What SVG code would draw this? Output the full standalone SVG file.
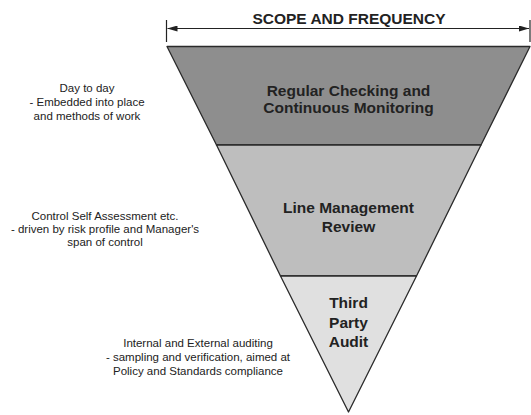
<svg xmlns="http://www.w3.org/2000/svg" width="531" height="415" viewBox="0 0 531 415">
<defs>
<style>
.band{stroke:#2a2a2a;stroke-width:1.3;stroke-linejoin:round}
.lbl{font-family:"Liberation Sans",Arial,sans-serif;font-weight:bold;font-size:15.5px;fill:#222;text-anchor:middle}
.note{font-family:"Liberation Sans",Arial,sans-serif;font-size:11.5px;fill:#222;text-anchor:middle}
.dim{stroke:#222;stroke-width:1.2;fill:none}
</style>
<marker id="ah" viewBox="0 0 10 6" refX="10" refY="3" markerWidth="10" markerHeight="6" markerUnits="userSpaceOnUse" orient="auto-start-reverse">
<path d="M0,0 L10,3 L0,6 z" fill="#222"/>
</marker>
</defs>
<rect width="531" height="415" fill="#fff"/>
<g id="connectors">
<line class="dim" x1="166.5" y1="20" x2="166.5" y2="42"/>
<line class="dim" x1="530" y1="20" x2="530" y2="42"/>
<line class="dim" x1="167.5" y1="28.5" x2="529" y2="28.5" marker-start="url(#ah)" marker-end="url(#ah)"/>
</g>
<g id="title">
<text class="lbl" x="349" y="24">SCOPE AND FREQUENCY</text>
</g>
<g id="band1">
<polygon class="band" fill="#8e8e8e" points="167,46.5 530,46.5 481,145 216.5,145"/>
<text class="lbl" x="348.5" y="96">Regular Checking and</text>
<text class="lbl" x="348.5" y="113">Continuous Monitoring</text>
</g>
<g id="band2">
<polygon class="band" fill="#bebebe" points="216.5,145 481,145 416.5,276 280.5,276"/>
<text class="lbl" x="348.5" y="213">Line Management</text>
<text class="lbl" x="348.5" y="232">Review</text>
</g>
<g id="band3">
<polygon class="band" fill="#e0e0e0" points="280.5,276 416.5,276 348.5,412"/>
<text class="lbl" x="348.5" y="308">Third</text>
<text class="lbl" x="348.5" y="328">Party</text>
<text class="lbl" x="348.5" y="347">Audit</text>
</g>
<g id="note1">
<text class="note" x="87" y="92">Day to day</text>
<text class="note" x="87" y="106">- Embedded into place</text>
<text class="note" x="87" y="119.5">and methods of work</text>
</g>
<g id="note2">
<text class="note" x="105" y="220">Control Self Assessment etc.</text>
<text class="note" x="105" y="233">- driven by risk profile and Manager's</text>
<text class="note" x="105" y="246">span of control</text>
</g>
<g id="note3">
<text class="note" x="198" y="347">Internal and External auditing</text>
<text class="note" x="198" y="361">- sampling and verification, aimed at</text>
<text class="note" x="198" y="375">Policy and Standards compliance</text>
</g>
</svg>
